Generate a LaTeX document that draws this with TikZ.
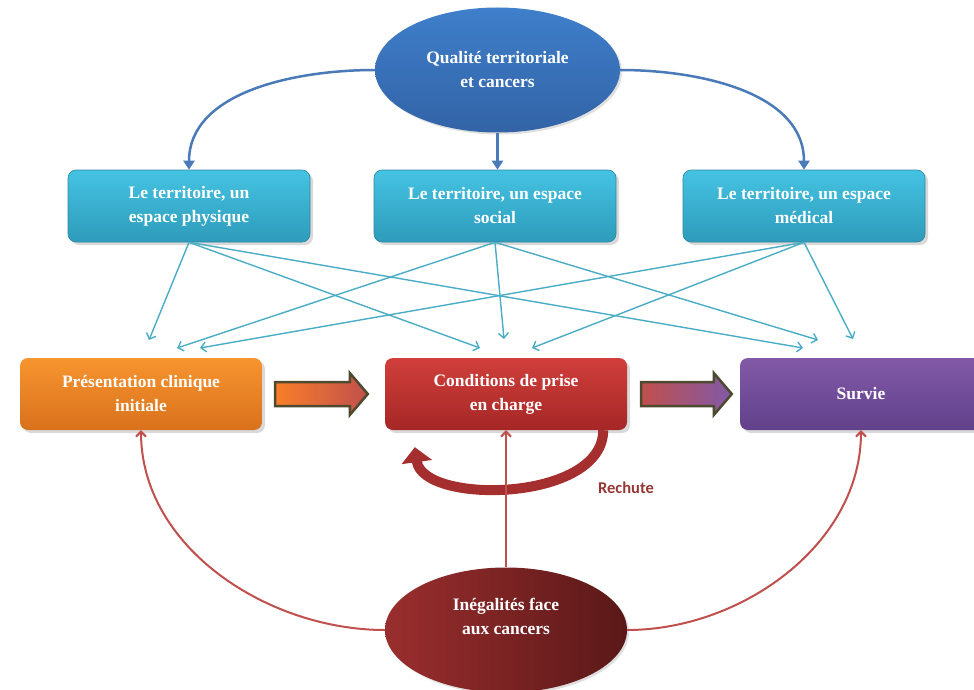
\documentclass[tikz,border=0pt]{standalone}
\usepackage{fontspec}
\setmainfont{Liberation Serif}
\newfontfamily\calib{Carlito}
\usetikzlibrary{shapes.geometric,shadows,arrows.meta,calc}
\definecolor{cyanT}{HTML}{45C3E3}
\definecolor{cyanB}{HTML}{2E9BBA}
\definecolor{cyanE}{HTML}{2C86A0}
\definecolor{orT}{HTML}{F7952F}
\definecolor{orB}{HTML}{D9711C}
\definecolor{rdT}{HTML}{D13F3B}
\definecolor{rdB}{HTML}{A52726}
\definecolor{puT}{HTML}{8159A8}
\definecolor{puB}{HTML}{62418A}
\definecolor{blT}{HTML}{3F7FCB}
\definecolor{blB}{HTML}{3263A6}
\definecolor{inL}{HTML}{9A2E2E}
\definecolor{inR}{HTML}{5A1818}
\definecolor{blueline}{HTML}{4A7AB8}
\definecolor{cyanline}{HTML}{4BACC6}
\definecolor{redline}{HTML}{C0504D}
\definecolor{olive}{HTML}{4D4A2F}
\definecolor{rechute}{HTML}{953735}
\definecolor{relapse}{HTML}{A52F2E}
\tikzset{
  boxtext/.style={text=white, font=\bfseries\fontsize{17.5}{24}\selectfont, align=center},
  basebox/.style={boxtext, rounded corners=8pt, minimum width=242pt, minimum height=72pt,
    inner sep=2pt, drop shadow={opacity=0.3, shadow xshift=3pt, shadow yshift=-3pt}},
  cyanbox/.style={basebox, top color=cyanT, bottom color=cyanB, draw=cyanE, line width=0.6pt},
  orbox/.style={basebox, top color=orT, bottom color=orB},
  rdbox/.style={basebox, top color=rdT, bottom color=rdB},
  pubox/.style={basebox, top color=puT, bottom color=puB},
  topell/.style={ellipse, boxtext, minimum width=245pt, minimum height=125pt, inner sep=0pt,
    top color=blT, bottom color=blB, drop shadow={opacity=0.25, shadow xshift=2pt, shadow yshift=-2pt}},
  botell/.style={ellipse, minimum width=242pt, minimum height=125pt, inner sep=0pt,
    left color=inL, right color=inR, drop shadow={opacity=0.25, shadow xshift=2pt, shadow yshift=-2pt}},
  bluearrow/.style={draw=blueline, line width=2.5pt, -{Triangle[width=11pt,length=9pt]}},
  cyanarrow/.style={draw=cyanline, line width=1.4pt, -{Straight Barb[width=10pt,length=5pt]}},
  redarrow/.style={draw=redline, line width=2pt, -{Straight Barb[width=10pt,length=5pt]}},
  blockarrow/.style={draw=olive, line width=2.5pt, line join=miter},
}
\begin{document}
\begin{tikzpicture}[x=1pt,y=1pt]
\useasboundingbox (0,0) rectangle (974,-690);
\clip (0,0) rectangle (974,-690);

% nodes
\node[topell] (top) at (497.5,-70) {Qualité territoriale\\et cancers};
\node[cyanbox] (b1) at (189,-206) {Le territoire, un\\espace physique};
\node[cyanbox] (b2) at (495,-206) {Le territoire, un espace\\social};
\node[cyanbox] (b3) at (804,-206) {Le territoire, un espace\\médical};
\node[orbox] (pres) at (141,-394) {Présentation clinique\\initiale};
\node[rdbox] (cond) at (506,-394) {Conditions de prise\\en charge};
\node[pubox] (surv) at (861,-394) {Survie};
\node[botell] (ineq) at (506,-630) {};
\node[boxtext] (ineqtxt) at (506,-616) {Inégalités face\\aux cancers};
\node[text=rechute, font=\calib\bfseries\fontsize{16.5}{18}\selectfont] (rech) at (626,-488) {Rechute};

% top blue arrows
\draw[bluearrow] (top.west) to[out=180,in=90,looseness=0.95] (b1.north);
\draw[bluearrow] (top.south) -- (top.south |- b2.north);
\draw[bluearrow] (top.east) to[out=0,in=90,looseness=0.95] (b3.north);

% cross arrow targets
\coordinate (o1) at (149,-340);
\coordinate (o2) at (177,-348);
\coordinate (o3) at (200,-348);
\coordinate (r1) at (480,-348);
\coordinate (r2) at (504,-339);
\coordinate (r3) at (532,-348);
\coordinate (p1) at (803,-348);
\coordinate (p2) at (818,-340);
\coordinate (p3) at (853,-339);

\draw[cyanarrow] (b1.south) -- (o1);
\draw[cyanarrow] (b1.south) -- (r1);
\draw[cyanarrow] (b1.south) -- (p1);
\draw[cyanarrow] (b2.south) -- (o2);
\draw[cyanarrow] (b2.south) -- (r2);
\draw[cyanarrow] (b2.south) -- (p2);
\draw[cyanarrow] (b3.south) -- (o3);
\draw[cyanarrow] (b3.south) -- (r3);
\draw[cyanarrow] (b3.south) -- (p3);

% block arrows
\coordinate (a1s) at ($(pres.east)+(13,0)$);
\coordinate (a1e) at ($(cond.west)+(-17,0)$);
\draw[blockarrow, left color=orT!85!red, right color=redline]
  ($(a1s)+(0,12)$) -- ($(a1e)+(-18,12)$) -- ($(a1e)+(-18,21)$) -- (a1e)
  -- ($(a1e)+(-18,-21)$) -- ($(a1e)+(-18,-12)$) -- ($(a1s)+(0,-12)$) -- cycle;
\coordinate (a2s) at ($(cond.east)+(14,0)$);
\coordinate (a2e) at ($(surv.west)+(-8,0)$);
\draw[blockarrow, left color=redline, right color=puT]
  ($(a2s)+(0,12)$) -- ($(a2e)+(-18,12)$) -- ($(a2e)+(-18,21)$) -- (a2e)
  -- ($(a2e)+(-18,-21)$) -- ($(a2e)+(-18,-12)$) -- ($(a2s)+(0,-12)$) -- cycle;

% relapse arrow
\coordinate (rs) at ($(cond.south east)+(-24,0)$);
\coordinate (re) at ($(cond.south west)+(30,-17)$);
\draw[draw=relapse, line width=10pt, -{Triangle[width=30pt,length=15pt]}]
  (rs) .. controls ($(rs)+(0,-72)$) and ($(re)+(8,-58)$) .. (re);

% bottom red arrows
\draw[redarrow] (ineq.west) to[out=180,in=-90,looseness=0.95] (pres.south);
\draw[redarrow] (ineq.north) -- (cond.south);
\draw[redarrow] (ineq.east) to[out=0,in=-90,looseness=0.95] (surv.south);
\end{tikzpicture}
\end{document}
